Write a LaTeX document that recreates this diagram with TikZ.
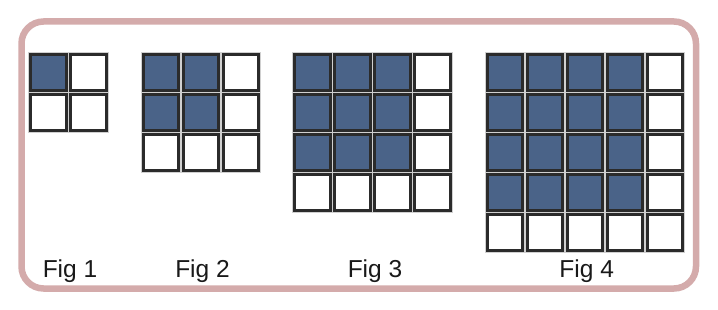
\documentclass[tikz,border=0pt]{standalone}
\usepackage{fontspec}
\setmainfont{Liberation Sans}
\definecolor{framec}{HTML}{D4ABAB}
\definecolor{cellblue}{HTML}{4A6388}
\definecolor{celledge}{HTML}{2B2B2B}
\definecolor{halo}{HTML}{D0D0D0}
\begin{document}
\begin{tikzpicture}[x=1pt,y=-1pt,
  cellhalo/.style={draw=halo,line width=5pt},
  celldark/.style={draw=celledge,line width=3pt},
  figlabel/.style={anchor=base,inner sep=0pt,font=\fontsize{24.5}{24.5}\selectfont,text=black!90}]
\useasboundingbox (0,0) rectangle (718,310);
\fill[white] (0,0) rectangle (718,310);
\draw[framec,line width=6.5pt,rounded corners=22pt] (21.5,21.5) rectangle (696,288.5);
% cell macro: #1=x0, #2=y0, #3=fill
\newcommand{\mycell}[3]{%
  \draw[cellhalo] (#1+1.5,#2+1.5) rectangle (#1+37.2,#2+37.2);
  \draw[celldark,fill=#3] (#1+1.5,#2+1.5) rectangle (#1+37.2,#2+37.2);}
% grid: x0, n (size), filled size = n-1
\foreach \xo/\n in {29/2,141.7/3,293.3/4,485.7/5}{
  \foreach \i in {1,...,\n}{
    \foreach \j in {1,...,\n}{
      \pgfmathsetmacro{\cx}{\xo+40*(\i-1)}
      \pgfmathsetmacro{\cy}{53.3+40*(\j-1)}
      \pgfmathtruncatemacro{\isblue}{(\i<\n)&&(\j<\n)}
      \ifnum\isblue=1
        \mycell{\cx}{\cy}{cellblue}
      \else
        \mycell{\cx}{\cy}{white}
      \fi
    }
  }
}
\node[figlabel] (f1) at (70,277.5) {Fig 1};
\node[figlabel] (f2) at (202.5,277.5) {Fig 2};
\node[figlabel] (f3) at (375,277.5) {Fig 3};
\node[figlabel] (f4) at (586.7,277.5) {Fig 4};
\end{tikzpicture}
\end{document}
